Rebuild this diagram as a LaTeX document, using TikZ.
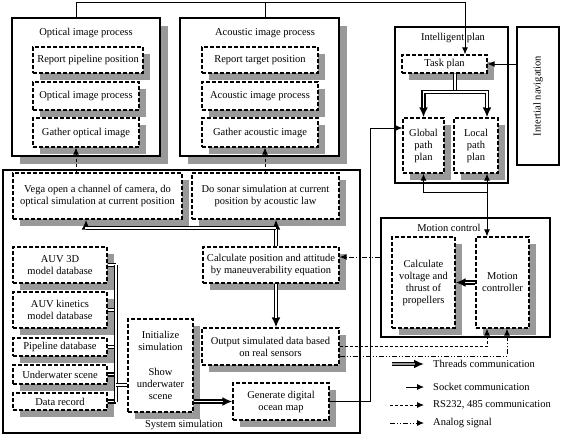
\documentclass[tikz,border=0pt]{standalone}
\usepackage{fontspec}
\setmainfont{Liberation Serif}
\usetikzlibrary{arrows.meta,shadows}

\begin{document}
\begin{tikzpicture}[
	x=1pt, y=-1pt,
	>={Latex[length=7pt,width=6pt]},
	every node/.style = {font=\fontsize{10.5}{12}\selectfont},
	group/.style = {draw, line width=2.4pt, fill=white},
	groupshadow/.style = {group, general shadow={fill=black!40, shadow xshift=8pt, shadow yshift=-8pt}},
	sub/.style = {draw, dash pattern=on 4pt off 2pt, line width=1.2pt, fill=white, align=center, inner sep=1pt,
		general shadow={fill=black!40, shadow xshift=7pt, shadow yshift=-7pt}},
	title/.style = {inner sep=0pt, align=center},
	socket/.style = {line width=0.9pt, ->},
	rs/.style = {socket, dash pattern=on 3pt off 2pt},
	analog/.style = {socket, dash pattern=on 5pt off 2pt on 1pt off 2pt on 1pt off 2pt},
	bus/.style = {draw=white, line width=1.6pt, preaction={draw=black, line width=4.2pt}},
	thread/.style = {draw=white, line width=1.6pt, shorten >=9pt,
		preaction={draw=black, line width=4.2pt, shorten >=0pt, -{Latex[length=10pt,width=9pt]}}},
	legthread/.style = {thread, draw=black!40},
]
	\useasboundingbox (0,0) rectangle (561,437);

	\node [groupshadow, minimum width=148pt, minimum height=138pt] (opt) at (86,87) {};
	\node [groupshadow, minimum width=159pt, minimum height=138pt] (aco) at (259.5,87) {};
	\node [group, minimum width=113pt, minimum height=156pt] (intel) at (451.5,105) {};
	\node [group, minimum width=42pt, minimum height=138pt] (nav) at (538,96) {};
	\node [group, minimum width=357pt, minimum height=263pt] (sim) at (181.5,301.5) {};
	\node [group, minimum width=169pt, minimum height=119pt] (motion) at (465.5,277.5) {};

	\node [title] (optT) at (86,33) {Optical image process};
	\node [title] (acoT) at (265,33) {Acoustic image process};
	\node [title] (intelT) at (453,38) {Intelligent plan};
	\node [title, rotate=90] (navT) at (nav) {Intertial navigation};
	\node [title] (motionT) at (449,228) {Motion control};
	\node [title] (simT) at (184,425) {System simulation};

	\node [sub, minimum width=110pt, minimum height=26pt] (rpp) at (88,60) {Report pipeline position};
	\node [sub, minimum width=106pt, minimum height=28pt] (oip) at (86,96) {Optical image process};
	\node [sub, minimum width=106pt, minimum height=29pt] (goi) at (86,132.5) {Gather optical image};
	\node [sub, minimum width=116pt, minimum height=26pt] (rtp) at (260,60) {Report target position};
	\node [sub, minimum width=116pt, minimum height=28pt] (aip) at (260,96) {Acoustic image process};
	\node [sub, minimum width=116pt, minimum height=29pt] (gai) at (260,132.5) {Gather acoustic image};

	\node [sub, minimum width=85pt, minimum height=18pt] (task) at (444.5,64) {Task plan};
	\node [sub, minimum width=41pt, minimum height=55pt] (global) at (423.5,145.5) {Global\\path\\plan};
	\node [sub, minimum width=44pt, minimum height=55pt] (local) at (476,145.5) {Local\\path\\plan};

	\node [sub, minimum width=169pt, minimum height=46pt] (vega) at (97.5,196) {Vega open a channel of camera, do\\optical simulation at current position};
	\node [sub, minimum width=147pt, minimum height=46pt] (sonar) at (265.5,196) {Do sonar simulation at current\\position by acoustic law};
	\node [sub, minimum width=136pt, minimum height=36pt] (calcp) at (271,265) {Calculate position and attitude\\by maneuverability equation};
	\node [sub, minimum width=137pt, minimum height=37pt] (output) at (270.5,346.5) {Output simulated data based\\on real sensors};
	\node [sub, minimum width=96pt, minimum height=37pt] (ocean) at (281,401.5) {Generate digital\\ocean map};
	\node [sub, minimum width=65pt, minimum height=93pt] (init) at (160.5,365.5) {Initialize\\simulation\\[13pt]Show\\underwater\\scene};

	\node [sub, minimum width=94pt, minimum height=36pt] (db1) at (60,265) {AUV 3D\\model database};
	\node [sub, minimum width=94pt, minimum height=36pt] (db2) at (60,310) {AUV kinetics\\model database};
	\node [sub, minimum width=94pt, minimum height=18pt] (db3) at (60,347) {Pipeline database};
	\node [sub, minimum width=94pt, minimum height=19pt] (db4) at (60,374.5) {Underwater scene};
	\node [sub, minimum width=94pt, minimum height=17pt] (db5) at (60,401.5) {Data record};

	\node [sub, minimum width=63pt, minimum height=91pt] (calcv) at (423.5,282.5) {Calculate\\voltage and\\thrust of\\propellers};
	\node [sub, minimum width=53pt, minimum height=91pt] (mctrl) at (502.5,282.5) {Motion\\controller};

	\coordinate (topbus) at (0,2);
	\coordinate (optcol) at (76,0);
	\coordinate (acocol) at (265,0);
	\coordinate (taskcol) at (465,0);
	\coordinate (splitcol) at (455,0);
	\coordinate (plancol) at (487,0);
	\coordinate (ancol) at (507,0);
	\coordinate (mapcol) at (370,0);
	\coordinate (calccol) at (276,0);
	\coordinate (vegacol) at (86,0);
	\coordinate (dbcol) at (116,0);
	\coordinate (splitrow) at (0,92);
	\coordinate (globalrow) at (0,128);
	\coordinate (planrow) at (0,192);
	\coordinate (vegarow) at (0,228);
	\coordinate (attrow) at (0,257);
	\coordinate (anrow) at (0,356);
	\coordinate (initrow) at (0,385);

	\draw [socket] (opt.north -| optcol) |- (topbus -| taskcol) -- (task.north -| taskcol);
	\draw [line width=0.9pt] (aco.north -| acocol) -- (topbus -| acocol);
	\draw [socket] (nav.west |- task.east) -- (task.east);
	\draw [bus] (task.south -| splitcol) -- (splitrow -| splitcol);
	\draw [thread] (splitrow -| splitcol) -| (global.north);
	\draw [thread] (splitrow -| splitcol) -| (local.north -| plancol);
	\draw [socket] (ocean.east) -| (globalrow -| mapcol) -- (globalrow -| global.west);
	\draw [socket, <->] (local.south -| plancol) -- (mctrl.north -| plancol);
	\draw [socket] (planrow -| plancol) -| (global.south);
	\draw [thread] (mctrl.west) -- (calcv.east);
	\draw [analog] (motion.west |- attrow) -- (calcp.east |- attrow);
	\draw [rs] (output.east) -| (mctrl.south -| plancol);
	\draw [analog] (output.east |- anrow) -| (mctrl.south -| ancol);
	\draw [rs] (vega.north -| optcol) -- (goi.south -| optcol);
	\draw [rs] (sonar.north -| acocol) -- (gai.south -| acocol);
	\draw [thread] (calcp.north -| calccol) -- (sonar.south -| calccol);
	\draw [thread] (vegarow -| calccol) -| (vega.south -| vegacol);
	\draw [thread] (calcp.south -| calccol) -- (output.north -| calccol);
	\draw [thread] (init.east |- ocean.west) -- (ocean.west);
	\foreach \db in {db1,db2,db3,db4,db5}
		\draw [bus] (\db.east) -- (\db.east -| dbcol);
	\draw [bus] (db1.east -| dbcol) -- (db5.east -| dbcol);
	\draw [bus] (initrow -| dbcol) -- (initrow -| init.west);

	\foreach \sty/\x/\y/\txt [count=\i] in {legthread/392/364/Threads communication, socket/406/387/Socket communication,
						rs/390/405/{RS232, 485 communication}, analog/390/423/Analog signal}{%
		\coordinate (leg\i) at (\x,\y);
		\coordinate (legE\i) at (424,\y);
		\node [title, anchor=west] (legT\i) at (433,\y) {\txt};
		\draw [\sty] (leg\i) -- (legE\i);
	}
\end{tikzpicture}
\end{document}
